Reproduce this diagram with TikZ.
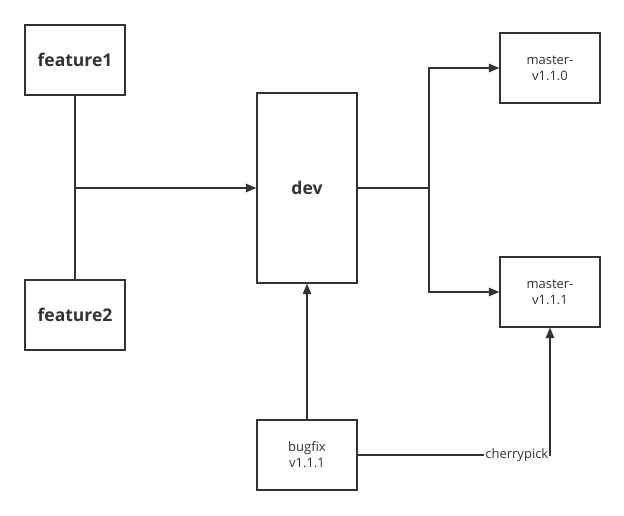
\documentclass[tikz,border=0pt]{standalone}
\usepackage{fontspec}
\setmainfont{Open Sans}
\usepackage{tikz}
\usetikzlibrary{arrows,positioning,calc}
\definecolor{ink}{HTML}{333333}

\begin{document}
\begin{tikzpicture}[x=1pt,y=-1pt,>=triangle 45,line width=1.4pt,draw=ink,
   branch/.style={draw, fill=white, minimum width=100pt, minimum height=70pt, align=center, text=ink},
   bigbranch/.style={branch, font=\fontsize{17.5}{20}\selectfont\bfseries},
   smallbranch/.style={branch, font=\fontsize{13}{16}\selectfont}]
  \useasboundingbox (0,0) rectangle (624,515);
  \node[bigbranch] (f1) at (75, 60) {feature1};
  \node[bigbranch] (f2) at (75, 315) {feature2};
  \node[bigbranch, minimum height=190pt] (dev) at (307, 188) {dev};
  \node[smallbranch] (m110) at (550, 68) {master-\\v1.1.0};
  \node[smallbranch] (m111) at (550, 292) {master-\\v1.1.1};
  \node[smallbranch] (fix) at (307, 455) {bugfix\\v1.1.1};
  % merge of both features into dev
  \draw (f1.south) -- (f2.north);
  \draw[->] (f1.south |- dev.west) -- (dev.west);
  % releases
  \coordinate (split) at (429, 188);
  \draw (dev.east) -- (split);
  \draw[->] (split) |- (m110.west);
  \draw[->] (split) |- (m111.west);
  % hotfix
  \draw[->] (fix.north) -- (dev.south);
  \draw[->] (fix.east) -| node[pos=0.5, anchor=east, fill=white, inner sep=1pt, text=ink,
     font=\fontsize{13}{15}\selectfont] {cherrypick} (m111.south);
\end{tikzpicture}
\end{document}
